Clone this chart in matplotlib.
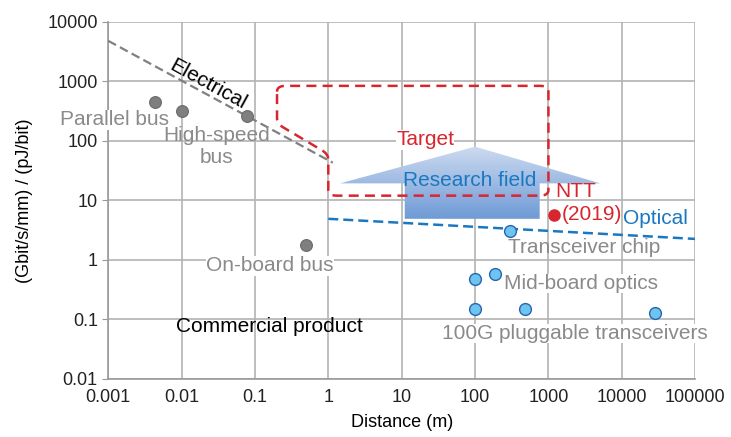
import matplotlib
matplotlib.use("Agg")
import matplotlib.pyplot as plt
import numpy as np
from matplotlib.patches import Polygon

plt.rcParams['font.family'] = ['Liberation Sans', 'DejaVu Sans']

# axis ticks
x_ticks = [0.001, 0.01, 0.1, 1, 10, 100, 1000, 10000, 100000]
x_tick_labels = ['0.001', '0.01', '0.1', '1', '10', '100', '1000', '10000', '100000']
y_ticks = [0.01, 0.1, 1, 10, 100, 1000, 10000]
y_tick_labels = ['0.01', '0.1', '1', '10', '100', '1000', '10000']

# electrical products (gray)
elec_x = [0.0043, 0.01, 0.078, 0.49]
elec_y = [450, 320, 263, 1.75]

# optical products (blue)
opt_x = [300, 100, 187, 100, 480, 28500]
opt_y = [3.0, 0.47, 0.59, 0.147, 0.147, 0.13]

# NTT result
ntt_x = [1200]
ntt_y = [5.7]

# trend lines
elec_line_x = [0.001, 1.15]
elec_line_y = [4800, 43]
opt_line_x = [1, 100000]
opt_line_y = [4.9, 2.25]

# target region outline (corners)
target_x = [0.2, 1000, 1000, 1, 1, 0.2]
target_y = [840, 840, 12, 12, 60, 194]

# research field arrow
arrow_x = [1.45, 100, 5100, 760, 760, 11, 11]
arrow_y = [19.3, 80, 19.3, 19.3, 4.9, 4.9, 19.3]

gray = '#8a8a8a'
blue = '#1a78c2'
red = '#d7262e'

fig = plt.figure(figsize=(7.31, 4.37), dpi=100)
ax = fig.add_axes([0.148, 0.133, 0.803, 0.817])
ax.set_xscale('log')
ax.set_yscale('log')
ax.set_xlim(x_ticks[0], x_ticks[-1])
ax.set_ylim(y_ticks[0], y_ticks[-1])
ax.set_xticks(x_ticks)
ax.set_xticklabels(x_tick_labels)
ax.set_yticks(y_ticks)
ax.set_yticklabels(y_tick_labels)
ax.minorticks_off()
ax.tick_params(axis='both', labelsize=13, colors='#222222')
ax.tick_params(axis='y', length=4, color='#999999')
ax.tick_params(axis='x', length=0, pad=7)
ax.grid(True, color='#b3b3b3', lw=1.2)
ax.set_axisbelow(True)
for s in ['top', 'right']:
    ax.spines[s].set_visible(False)
for s in ['left', 'bottom']:
    ax.spines[s].set_color('#999999')
    ax.spines[s].set_linewidth(1.2)

ax.set_xlabel('Distance (m)', fontsize=13, labelpad=6)
ax.set_ylabel('(Gbit/s/mm) / (pJ/bit)', fontsize=13, labelpad=10)

# research field arrow with vertical gradient
arrow = Polygon(np.column_stack([arrow_x, arrow_y]), closed=True,
                facecolor='none', edgecolor='none', zorder=2)
ax.add_patch(arrow)
to_axes = ax.transData + ax.transAxes.inverted()
(ax0, ay0), (ax1, ay1) = to_axes.transform([(min(arrow_x), min(arrow_y)),
                                            (max(arrow_x), max(arrow_y))])
grad = np.linspace(0, 1, 256).reshape(-1, 1)
cmap = matplotlib.colors.LinearSegmentedColormap.from_list(
    'rf', ['#6e9ad6', '#cddbf0'])
img = ax.imshow(grad, extent=[ax0, ax1, ay0, ay1], origin='lower',
                transform=ax.transAxes, cmap=cmap, aspect='auto', zorder=2)
img.set_clip_path(arrow)


# target outline with rounded corners
def rounded_outline(xs, ys, r=0.12, n=12):
    lx, ly = np.log10(xs), np.log10(ys) * 73.3 / 59.6
    pts = np.column_stack([lx, ly])
    out = []
    m = len(pts)
    for i in range(m):
        p0, p1, p2 = pts[i - 1], pts[i], pts[(i + 1) % m]
        d0 = (p0 - p1) / np.linalg.norm(p0 - p1)
        d2 = (p2 - p1) / np.linalg.norm(p2 - p1)
        a, b = p1 + d0 * r, p1 + d2 * r
        t = np.linspace(0, 1, n)[:, None]
        out.append((1 - t) ** 2 * a + 2 * (1 - t) * t * p1 + t ** 2 * b)
    out = np.vstack(out + [out[0][:1]])
    return 10 ** out[:, 0], 10 ** (out[:, 1] * 59.6 / 73.3)


tx, ty = rounded_outline(target_x, target_y)
ax.plot(tx, ty, color=red, lw=1.8, ls=(0, (4, 2.5)), zorder=4)

# trend lines
ax.plot(elec_line_x, elec_line_y, color='#808080', lw=1.6, ls=(0, (4, 2)), zorder=3)
ax.plot(opt_line_x, opt_line_y, color=blue, lw=1.8, ls=(0, (4, 2)), zorder=3)

# data points
ax.plot(elec_x, elec_y, 'o', ms=8.5, mfc='#7f7f7f', mec='#6a6a6a', mew=0.8, zorder=5)
ax.plot(opt_x, opt_y, 'o', ms=8.5, mfc='#6cc4ef', mec='#2a64b0', mew=1.0, zorder=5)
ax.plot(ntt_x, ntt_y, 'o', ms=8, mfc=red, mec=red, zorder=5)

box = dict(facecolor='white', edgecolor='none', pad=0.3)
fs = 15
ax.text(0.00123, 226, 'Parallel bus', color=gray, fontsize=fs, ha='center', va='center', bbox=box, zorder=3)
ax.text(0.0303, 80, 'High-speed\nbus', color=gray, fontsize=fs, ha='center', va='center',
        linespacing=1.2, zorder=3)
ax.text(0.16, 0.80, 'On-board bus', color=gray, fontsize=fs, ha='center', va='center', bbox=box, zorder=3)
ax.text(0.155, 0.076, 'Commercial product', color='black', fontsize=fs, ha='center', va='center', zorder=3)
ax.text(3080, 1.61, 'Transceiver chip', color=gray, fontsize=fs, ha='center', va='center', zorder=3)
ax.text(2800, 0.40, 'Mid-board optics', color=gray, fontsize=fs, ha='center', va='center', bbox=box, zorder=3)
ax.text(2320, 0.058, '100G pluggable transceivers', color=gray, fontsize=fs, ha='center',
        va='center', bbox=box, zorder=3)
ax.text(0.023, 870, 'Electrical', color='black', fontsize=fs, ha='center', va='center',
        rotation=-28.7, rotation_mode='anchor', zorder=6)
ax.text(20.8, 104, 'Target', color=red, fontsize=fs, ha='center', va='center', bbox=box, zorder=3)
ax.text(85.5, 21.4, 'Research field', color=blue, fontsize=fs, ha='center', va='center', zorder=6)
ax.text(2320, 14, 'NTT', color=red, fontsize=fs, ha='center', va='center', zorder=6)
ax.text(1500, 5.75, '(2019)', color=red, fontsize=fs, ha='left', va='center', zorder=6)
ax.text(28600, 4.93, 'Optical', color=blue, fontsize=fs, ha='center', va='center', zorder=6)

fig.savefig('out.png', dpi=100)
